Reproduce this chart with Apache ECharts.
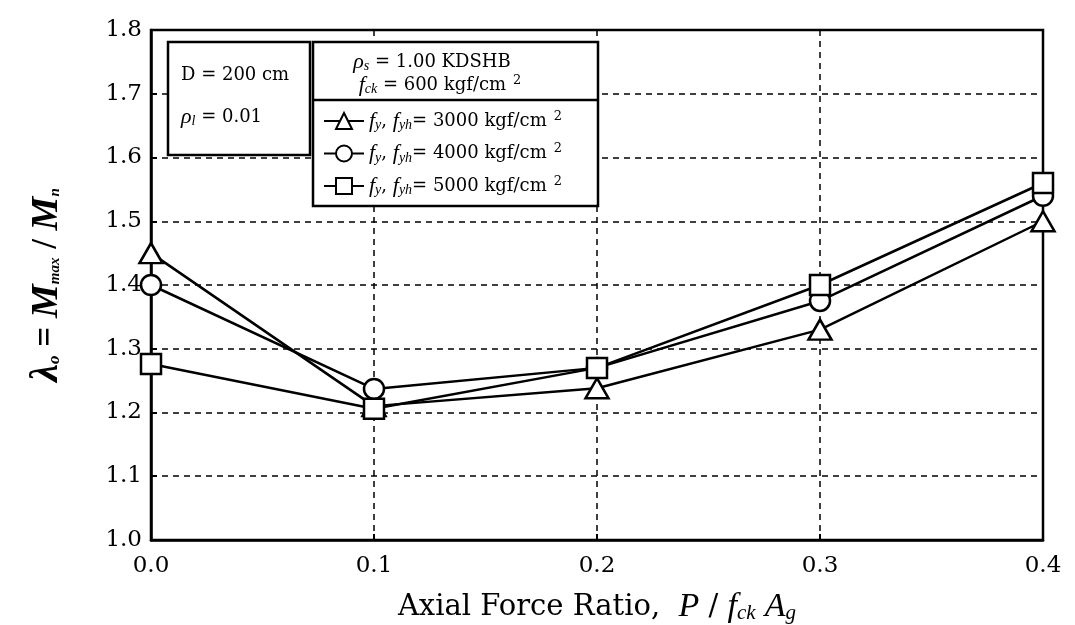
<!DOCTYPE html>
<html>
<head>
    <meta charset="utf-8">
</head>
<body style="margin:0;background:#fff;">

<div id="main" style="width: 1075px;height:625px;"></div>
<script src="https://cdn.jsdelivr.net/npm/echarts@6/dist/echarts.min.js"></script>
<script type="text/javascript">
    // 轴力比
    var ratios = [0.0, 0.1, 0.2, 0.3, 0.4];
    var strengths = ['3000', '4000', '5000'];
    var lambda3000 = [1.45, 1.21, 1.238, 1.33, 1.50];
    var lambda4000 = [1.40, 1.237, 1.27, 1.375, 1.54];
    var lambda5000 = [1.276, 1.206, 1.27, 1.40, 1.56];
    var xTicks = ['0.0', '0.1', '0.2', '0.3', '0.4'];
    var yTicks = ['1.0', '1.1', '1.2', '1.3', '1.4', '1.5', '1.6', '1.7', '1.8'];

    var serif = '"DejaVu Serif", "Liberation Serif", serif';
    var times = '"Liberation Serif", "DejaVu Serif", serif';

    function pairs(ys) {
        return ratios.map(function (x, i) { return [x, ys[i]]; });
    }

    var legendRich = {
        i: { fontFamily: times, fontSize: 22, fontStyle: 'italic', color: '#000' },
        s: { fontFamily: times, fontSize: 14, fontStyle: 'italic', color: '#000', padding: [9, 0, 0, 0] },
        t: { fontFamily: serif, fontSize: 18, color: '#000', lineHeight: 22 },
        sup: { fontFamily: serif, fontSize: 13, color: '#000', padding: [0, 0, 9, 7] }
    };

    function mkSeries(name, ys, symbol) {
        return {
            name: name,
            type: 'line',
            data: pairs(ys),
            symbol: symbol,
            symbolSize: symbol === 'triangle' ? [23, 20] : 20,
            color: '#000',
            lineStyle: { color: '#000', width: 2.5 },
            itemStyle: { color: '#fff', borderColor: '#000', borderWidth: 2.5 },
            z: 3
        };
    }

    var option = {
        animation: false,
        backgroundColor: '#fff',
        grid: {
            left: 151, right: 32, top: 30, bottom: 85,
            outerBoundsMode: 'none',
            containLabel: false,
            show: true, borderColor: '#000', borderWidth: 2.5
        },
        legend: {
            orient: 'vertical',
            left: 318, top: 105,
            itemWidth: 40, itemHeight: 20, itemGap: 10,
            data: strengths,
            z: 20,
            formatter: function (name) {
                return '{i|f}{s|y}{t|, }{i|f}{s|yh}{t|= ' + name + ' kgf/cm}{sup|2}';
            },
            textStyle: { fontFamily: serif, fontSize: 18, color: '#000', rich: legendRich }
        },
        xAxis: {
            type: 'value',
            min: 0, max: 0.4, interval: 0.1,
            axisLine: { lineStyle: { color: '#000', width: 2.5 } },
            axisTick: { inside: true, length: 6, lineStyle: { color: '#000', width: 2 } },
            axisLabel: {
                margin: 15, fontFamily: serif, fontSize: 23, color: '#000',
                formatter: function (v) { return xTicks[Math.round(v * 10)]; }
            },
            splitLine: { lineStyle: { color: '#000', width: 1.5, type: [6, 5] } },
            name: '{t|Axial Force Ratio,  }{i|P}{t| / }{i|f}{s|ck}{t| }{i|A}{s|g}',
            nameLocation: 'middle',
            nameGap: 50,
            nameTextStyle: {
                rich: {
                    t: { fontFamily: serif, fontSize: 29, color: '#000' },
                    i: { fontFamily: times, fontSize: 34, fontStyle: 'italic', color: '#000' },
                    s: { fontFamily: times, fontSize: 21, fontStyle: 'italic', color: '#000', padding: [13, 0, 0, 0] }
                }
            }
        },
        yAxis: {
            type: 'value',
            min: 1.0, max: 1.8, interval: 0.1,
            axisLine: { lineStyle: { color: '#000', width: 2.5 } },
            axisTick: { inside: true, length: 6, lineStyle: { color: '#000', width: 2 } },
            axisLabel: {
                margin: 9, fontFamily: serif, fontSize: 23, color: '#000',
                formatter: function (v) { return yTicks[Math.round((v - 1) * 10)]; }
            },
            splitLine: { lineStyle: { color: '#000', width: 1.5, type: [6, 5] } },
            name: '{l|λ}{ls|o}{e| = }{m|M}{ms|max}{e| / }{m|M}{ms|n}',
            nameLocation: 'middle',
            nameGap: 84,
            nameTextStyle: {
                rich: {
                    l: { fontFamily: times, fontSize: 40, fontStyle: 'italic', fontWeight: 'bold', color: '#000' },
                    ls: { fontFamily: times, fontSize: 17, fontStyle: 'italic', fontWeight: 'bold', color: '#000', padding: [16, 0, 0, 0] },
                    e: { fontFamily: times, fontSize: 35, fontWeight: 'bold', color: '#000' },
                    m: { fontFamily: times, fontSize: 38, fontStyle: 'italic', fontWeight: 'bold', color: '#000' },
                    ms: { fontFamily: times, fontSize: 15, fontStyle: 'italic', fontWeight: 'bold', color: '#000', padding: [16, 0, 0, 0] }
                }
            }
        },
        graphic: [
            { type: 'rect', shape: { x: 168, y: 42, width: 142, height: 113 },
              style: { fill: '#fff', stroke: '#000', lineWidth: 2.5 }, z: 10 },
            { type: 'rect', shape: { x: 313, y: 42, width: 285, height: 164 },
              style: { fill: '#fff', stroke: '#000', lineWidth: 2.5 }, z: 10 },
            { type: 'line', shape: { x1: 313, y1: 100, x2: 598, y2: 100 },
              style: { stroke: '#000', lineWidth: 2.5 }, z: 11 },
            { type: 'text', x: 181, y: 75, z: 12,
              style: { text: 'D = 200 cm', font: '18px ' + serif, fill: '#000', verticalAlign: 'middle' } },
            { type: 'text', x: 181, y: 117, z: 12,
              style: {
                  text: '{i|ρ}{s|l}{t| = 0.01}', verticalAlign: 'middle',
                  rich: legendRich
              } },
            { type: 'text', x: 432, y: 62, z: 12,
              style: {
                  text: '{i|ρ}{s|s}{t| = 1.00 KDSHB}', align: 'center', verticalAlign: 'middle',
                  rich: legendRich
              } },
            { type: 'text', x: 440, y: 85, z: 12,
              style: {
                  text: '{i|f}{s|ck}{t| = 600 kgf/cm}{sup|2}', align: 'center', verticalAlign: 'middle',
                  rich: legendRich
              } }
        ],
        series: [
            mkSeries(strengths[0], lambda3000, 'triangle'),
            mkSeries(strengths[1], lambda4000, 'circle'),
            mkSeries(strengths[2], lambda5000, 'rect')
        ]
    };

    var myChart = echarts.init(document.getElementById('main'));
    myChart.setOption(option);
</script>
</body>
</html>
